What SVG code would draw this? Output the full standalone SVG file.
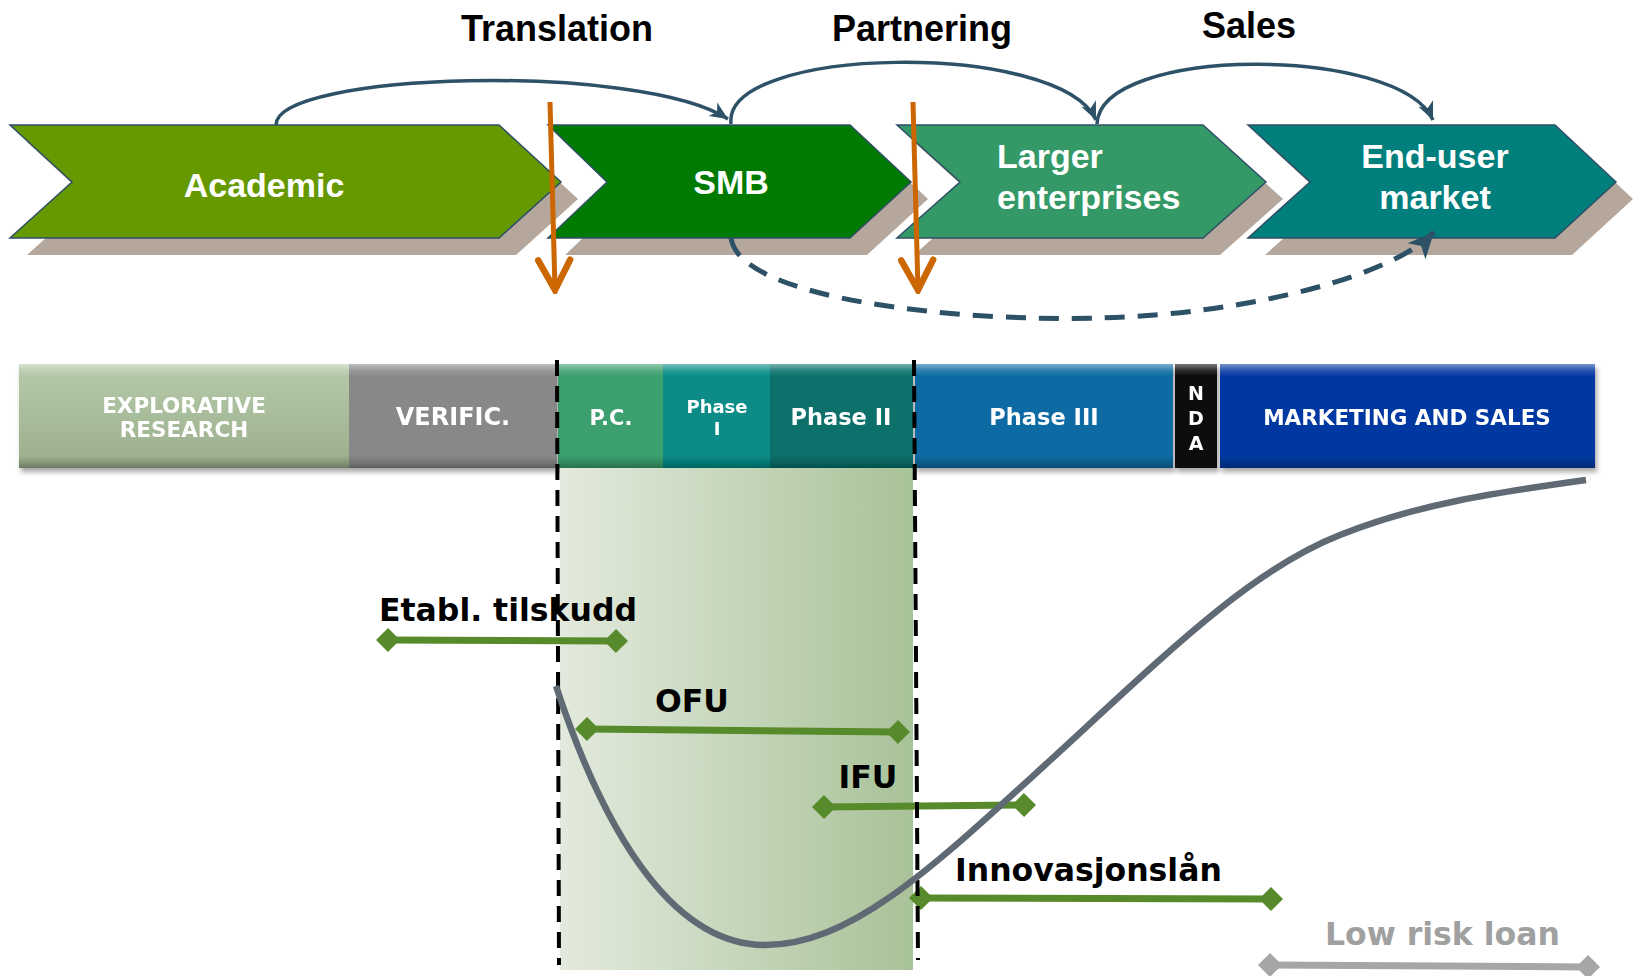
<svg xmlns="http://www.w3.org/2000/svg" width="1636" height="976" viewBox="0 0 1636 976">
<defs>
<style>
.chev{stroke:#2f4f66;stroke-width:1.5}
.shadow{fill:#b5a79b}
.ctext{font-family:"Liberation Sans",Arial,sans-serif;font-weight:bold;font-size:34px;fill:#fff}
.title{font-family:"Liberation Sans",Arial,sans-serif;font-weight:bold;font-size:36px;fill:#000;text-anchor:middle}
.conn{fill:none;stroke:#2d5167;stroke-width:3.5;marker-end:url(#ah)}
.dash{fill:none;stroke:#2d5167;stroke-width:5;stroke-dasharray:20 13;marker-end:url(#ah2)}
.orange{fill:none;stroke:#cc6600;stroke-width:5;marker-end:url(#oa)}
.btext{font-family:"DejaVu Sans",Verdana,sans-serif;font-weight:bold;fill:#fff;text-anchor:middle}
.ltext{font-family:"DejaVu Sans",Verdana,sans-serif;font-weight:bold;font-size:31.5px;fill:#000}
.ltext.gray{fill:#a0a0a0}
.gbar{stroke:#578a2a;stroke-width:7;fill:none;marker-start:url(#dg);marker-end:url(#dg)}
.graybar{stroke:#a6a6a6;stroke-width:7;fill:none;marker-start:url(#dgr);marker-end:url(#dgr)}
.vdash{stroke:#000;stroke-width:4;stroke-dasharray:16 10;fill:none}
.bevel{fill:url(#bev)}
</style>
<linearGradient id="bev" x1="0" y1="0" x2="0" y2="1">
<stop offset="0" stop-color="#fff" stop-opacity="0.45"/>
<stop offset="0.06" stop-color="#fff" stop-opacity="0.15"/>
<stop offset="0.12" stop-color="#fff" stop-opacity="0"/>
<stop offset="0.88" stop-color="#000" stop-opacity="0"/>
<stop offset="0.95" stop-color="#000" stop-opacity="0.15"/>
<stop offset="1" stop-color="#000" stop-opacity="0.3"/>
</linearGradient>
<linearGradient id="expl" x1="0" y1="0" x2="0" y2="1">
<stop offset="0" stop-color="#b6cbaa"/>
<stop offset="1" stop-color="#9aae8c"/>
</linearGradient>
<linearGradient id="region" x1="0" y1="0" x2="1" y2="0">
<stop offset="0" stop-color="#e3eadd"/>
<stop offset="1" stop-color="#a8c299"/>
</linearGradient>
<filter id="ds" x="-5%" y="-10%" width="110%" height="135%">
<feDropShadow dx="2" dy="4" stdDeviation="2.5" flood-color="#000" flood-opacity="0.35"/>
</filter>
<marker id="ah" viewBox="-20 -9 22 18" refX="0" refY="0" markerWidth="22" markerHeight="18" markerUnits="userSpaceOnUse" orient="auto">
<path d="M0,0 L-18,-8 L-13,0 L-18,8 z" fill="#2d5167"/>
</marker>
<marker id="ah2" viewBox="-28 -14 30 28" refX="0" refY="0" markerWidth="30" markerHeight="28" markerUnits="userSpaceOnUse" orient="auto">
<path d="M0,0 L-26,-12 L-19,0 L-26,12 z" fill="#2d5167"/>
</marker>
<marker id="oa" viewBox="-36 -20 40 40" refX="0" refY="0" markerWidth="40" markerHeight="40" markerUnits="userSpaceOnUse" orient="auto">
<path d="M-30,-16 L0,0 L-30,16" fill="none" stroke="#cc6600" stroke-width="6.5" stroke-linecap="round" stroke-linejoin="miter"/>
</marker>
<marker id="dg" viewBox="-13 -13 26 26" refX="0" refY="0" markerWidth="26" markerHeight="26" markerUnits="userSpaceOnUse" orient="auto">
<path d="M-12,0 L0,-12 L12,0 L0,12 z" fill="#578a2a"/>
</marker>
<marker id="dgr" viewBox="-13 -13 26 26" refX="0" refY="0" markerWidth="26" markerHeight="26" markerUnits="userSpaceOnUse" orient="auto">
<path d="M-12,0 L0,-12 L12,0 L0,12 z" fill="#a6a6a6"/>
</marker>
</defs>
<rect width="1636" height="976" fill="#fff"/>

<g id="shadows" class="shadow">
<polygon points="27,142 516,142 578,199 516,255 27,255 89,199"/>
<polygon points="565,142 867,142 928,199 867,255 565,255 624,199"/>
<polygon points="914,142 1220,142 1283,199 1220,255 914,255 977,199"/>
<polygon points="1265,142 1572,142 1633,199 1572,255 1265,255 1327,199"/>
</g>

<g id="node-academic">
<polygon class="chev" fill="#669900" points="10,125 499,125 561,182 499,238 10,238 72,182"/>
<text class="ctext" x="264" y="197" text-anchor="middle">Academic</text>
</g>
<g id="node-smb">
<polygon class="chev" fill="#007a00" points="548,125 850,125 911,182 850,238 548,238 607,182"/>
<text class="ctext" x="731" y="194" text-anchor="middle">SMB</text>
</g>
<g id="node-larger">
<polygon class="chev" fill="#349966" points="897,125 1203,125 1266,182 1203,238 897,238 960,182"/>
<text class="ctext" x="997" y="168">Larger</text>
<text class="ctext" x="997" y="209">enterprises</text>
</g>
<g id="node-enduser">
<polygon class="chev" fill="#017f7d" points="1248,125 1555,125 1616,182 1555,238 1248,238 1310,182"/>
<text class="ctext" x="1435" y="168" text-anchor="middle">End-user</text>
<text class="ctext" x="1435" y="209" text-anchor="middle">market</text>
</g>

<g id="labels-top">
<text class="title" x="557" y="41">Translation</text>
<text class="title" x="922" y="41">Partnering</text>
<text class="title" x="1249" y="38">Sales</text>
</g>

<g id="connectors">
<path class="conn" d="M276,125 C276,72 640,62 728,119"/>
<path class="conn" d="M731,124 C722,45 1060,40 1096,120"/>
<path class="conn" d="M1097,124 C1100,45 1400,45 1433,120"/>
<path class="dash" d="M731,238 C740,300 960,322 1100,318 C1250,314 1395,275 1434,232"/>
<path class="orange" d="M550,102 L555,290"/>
<path class="orange" d="M913,102 L918,290"/>
</g>

<g id="phase-bar" filter="url(#ds)">
<g id="node-explorative">
<rect x="19" y="364" width="330" height="104" fill="url(#expl)"/>
<rect class="bevel" x="19" y="364" width="330" height="104"/>
<text class="btext" x="184" y="413" font-size="21.5">EXPLORATIVE</text>
<text class="btext" x="184" y="437" font-size="21.5">RESEARCH</text>
</g>
<g id="node-verific">
<rect x="349" y="364" width="208" height="104" fill="#888888"/>
<rect class="bevel" x="349" y="364" width="208" height="104"/>
<text class="btext" x="453" y="425" font-size="24">VERIFIC.</text>
</g>
<g id="node-pc">
<rect x="558" y="364" width="105" height="104" fill="#3a9f6e"/>
<rect class="bevel" x="558" y="364" width="105" height="104"/>
<text class="btext" x="611" y="425" font-size="21">P.C.</text>
</g>
<g id="node-phase1">
<rect x="663" y="364" width="107" height="104" fill="#078c87"/>
<rect class="bevel" x="663" y="364" width="107" height="104"/>
<text class="btext" x="717" y="413" font-size="18">Phase</text>
<text class="btext" x="717" y="435" font-size="18">I</text>
</g>
<g id="node-phase2">
<rect x="770" y="364" width="143" height="104" fill="#08706b"/>
<rect class="bevel" x="770" y="364" width="143" height="104"/>
<text class="btext" x="841" y="425" font-size="22.5">Phase II</text>
</g>
<g id="node-phase3">
<rect x="915" y="364" width="258" height="104" fill="#0a6ba2"/>
<rect class="bevel" x="915" y="364" width="258" height="104"/>
<text class="btext" x="1044" y="425" font-size="22.5">Phase III</text>
</g>
<g id="node-nda">
<rect x="1175" y="364" width="42" height="104" fill="#0a0a0a"/>
<rect class="bevel" x="1175" y="364" width="42" height="104"/>
<text class="btext" x="1196" y="400" font-size="19">N</text>
<text class="btext" x="1196" y="425" font-size="19">D</text>
<text class="btext" x="1196" y="450" font-size="19">A</text>
</g>
<g id="node-marketing">
<rect x="1220" y="364" width="375" height="104" fill="#0539a2"/>
<rect class="bevel" x="1220" y="364" width="375" height="104"/>
<text class="btext" x="1407" y="425" font-size="21.5">MARKETING AND SALES</text>
</g>
</g>

<g id="focus-region">
<rect x="560" y="468" width="353" height="502" fill="url(#region)"/>
</g>

<g id="funding-bars">
<g id="node-etabl"><path class="gbar" d="M388,640 L616,641"/></g>
<g id="node-ofu"><path class="gbar" d="M587,729 L898,732"/></g>
<g id="node-ifu"><path class="gbar" d="M824,807 L1024,805"/></g>
<g id="node-innovasjonslan"><path class="gbar" d="M921,898 L1271,899"/></g>
<g id="node-lowrisk"><path class="graybar" d="M1270,965 L1588,967"/></g>
</g>

<g id="dividers">
<path class="vdash" d="M557,360 L559,965"/>
<path class="vdash" d="M914,360 L918,960"/>
</g>

<g id="curve">
<path d="M556,686 C610,850 680,945 765,945 C850,945 930,870 1045,765 C1165,655 1250,570 1340,535 C1420,503 1500,492 1586,480" fill="none" stroke="#5f6a74" stroke-width="6.5"/>
</g>

<g id="funding-labels">
<text class="ltext" x="379" y="621">Etabl. tilskudd</text>
<text class="ltext" x="692" y="712" text-anchor="middle">OFU</text>
<text class="ltext" x="868" y="788" text-anchor="middle">IFU</text>
<text class="ltext" x="955" y="881">Innovasjonslån</text>
<text class="ltext gray" x="1325" y="945">Low risk loan</text>
</g>
</svg>
